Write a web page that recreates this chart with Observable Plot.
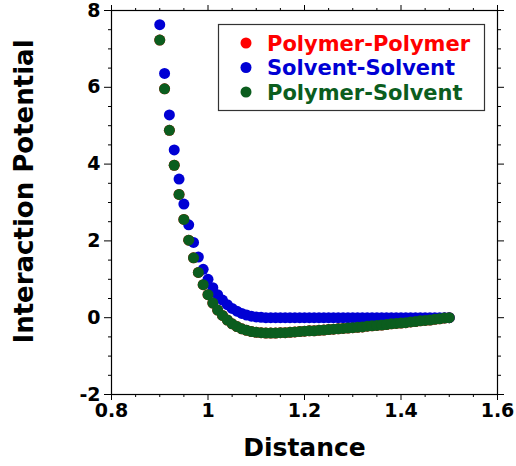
<!DOCTYPE html>
<html><head><meta charset="utf-8">
<script src="https://cdn.jsdelivr.net/npm/d3@7"></script>
<script src="https://cdn.jsdelivr.net/npm/@observablehq/plot@0.6"></script>
<style>body{margin:0;background:#fff}#chart{width:516px;height:466px}</style>
</head><body><div id="chart"></div>
<script>
const distance = [0.90,0.91,0.92,0.93,0.94,0.95,0.96,0.97,0.98,0.99,
  1.00,1.01,1.02,1.03,1.04,1.05,1.06,1.07,1.08,1.09,
  1.10,1.11,1.12,1.13,1.14,1.15,1.16,1.17,1.18,1.19,
  1.20,1.21,1.22,1.23,1.24,1.25,1.26,1.27,1.28,1.29,
  1.30,1.31,1.32,1.33,1.34,1.35,1.36,1.37,1.38,1.39,
  1.40,1.41,1.42,1.43,1.44,1.45,1.46,1.47,1.48,1.49,1.50];
const solventSolvent = [7.63,6.36,5.28,4.37,3.61,2.96,2.42,1.96,1.58,1.26,
  1.00,0.78,0.60,0.46,0.34,0.24,0.17,0.11,0.07,0.04,
  0.02,0.01,0.00,0.00,0.00,0.00,0.00,0.00,0.00,0.00,
  0.00,0.00,0.00,0.00,0.00,0.00,0.00,0.00,0.00,0.00,
  0.00,0.00,0.00,0.00,0.00,0.00,0.00,0.00,0.00,0.00,
  0.00,0.00,0.00,0.00,0.00,0.00,0.00,0.00,0.00,0.00,0.00];
const polymerSolvent = [7.23,5.96,4.88,3.97,3.21,2.56,2.02,1.56,1.18,0.86,
  0.60,0.38,0.20,0.06,-0.06,-0.16,-0.23,-0.29,-0.33,-0.36,
  -0.38,-0.39,-0.40,-0.40,-0.40,-0.39,-0.39,-0.38,-0.37,-0.36,
  -0.35,-0.34,-0.34,-0.33,-0.32,-0.31,-0.30,-0.29,-0.28,-0.27,
  -0.26,-0.25,-0.24,-0.22,-0.21,-0.20,-0.19,-0.18,-0.16,-0.15,
  -0.14,-0.13,-0.11,-0.10,-0.08,-0.07,-0.06,-0.04,-0.03,-0.01,0.00];
// Polymer-Polymer is fully hidden beneath the other two series in the picture
const polymerPolymer = [7.23,5.96,4.88,3.97,3.21,2.56,2.02,1.56,1.18,0.86,
  0.60,0.38,0.20,0.06,-0.06,-0.16,-0.23,-0.29,-0.33,-0.36,
  -0.38,-0.39,-0.40,-0.40,-0.40,-0.39,-0.39,-0.38,-0.37,-0.36,
  -0.35,-0.34,-0.34,-0.33,-0.32,-0.31,-0.30,-0.29,-0.28,-0.27,
  -0.26,-0.25,-0.24,-0.22,-0.21,-0.20,-0.19,-0.18,-0.16,-0.15,
  -0.14,-0.13,-0.11,-0.10,-0.08,-0.07,-0.06,-0.04,-0.03,-0.01,0.00];
const seriesNames = ["Polymer-Polymer","Solvent-Solvent","Polymer-Solvent"];
const seriesColors = ["#ff0000","#0000d4","#0b5d1e"];
const xMajorTicks = [0.8,1,1.2,1.4,1.6];
const xMinorTicks = [0.85,0.9,0.95,1.05,1.1,1.15,1.25,1.3,1.35,1.45,1.5,1.55];
const yMajorTicks = [-2,0,2,4,6,8];
const yMinorTicks = [-1.5,-1,-0.5,0.5,1,1.5,2.5,3,3.5,4.5,5,5.5,6.5,7,7.5];
const xLabel = "Distance";
const yLabel = "Interaction Potential";

const rows = [];
[polymerPolymer, solventSolvent, polymerSolvent].forEach((vals, i) =>
  vals.forEach((v, j) => rows.push({series: seriesNames[i], x: distance[j], y: v})));

const font = "DejaVu Sans";
const fmt = d => String(d);
const chart = Plot.plot({
  width: 516, height: 466,
  marginLeft: 111, marginRight: 19, marginTop: 10, marginBottom: 72,
  style: {fontFamily: font, color: "#000", background: "#fff", overflow: "visible"},
  x: {domain: [0.8, 1.6]},
  y: {domain: [-2, 8]},
  color: {domain: seriesNames, range: seriesColors},
  marks: [
    Plot.dot(rows, {x: "x", y: "y", fill: "series", r: 5.5, stroke: null}),
    Plot.frame({stroke: "#000", strokeWidth: 1.2}),
    Plot.axisX(xMajorTicks, {anchor: "bottom", tickSize: 6, tickPadding: 3, tickFormat: fmt, fontSize: 19, fontWeight: "bold", label: null}),
    Plot.axisX(xMinorTicks, {anchor: "bottom", tickSize: 3, text: null, label: null}),
    Plot.axisX(xMajorTicks, {anchor: "top", tickSize: 6, text: null, label: null}),
    Plot.axisX(xMinorTicks, {anchor: "top", tickSize: 3, text: null, label: null}),
    Plot.axisY(yMajorTicks, {anchor: "left", tickSize: 7, tickPadding: 4, tickFormat: fmt, fontSize: 19, fontWeight: "bold", label: null}),
    Plot.axisY(yMinorTicks, {anchor: "left", tickSize: 3, text: null, label: null}),
    Plot.axisY(yMajorTicks, {anchor: "right", tickSize: 6, text: null, label: null}),
    Plot.axisY(yMinorTicks, {anchor: "right", tickSize: 3, text: null, label: null}),
    Plot.axisX([], {anchor: "bottom", label: xLabel, labelAnchor: "center", labelArrow: "none", labelOffset: 61, fontSize: 25, fontWeight: "bold"}),
    Plot.axisY([], {anchor: "left", label: yLabel, labelAnchor: "center", labelArrow: "none", labelOffset: 97, fontSize: 26, fontWeight: "bold"})
  ]
});
document.getElementById("chart").appendChild(chart);

const svg = d3.select(chart);
// nudge the y-axis title upward along its rotated baseline, as in the reference
svg.selectAll("text").filter(function() { return this.textContent === yLabel; }).attr("dx", 11);

// legend (inside plot area, top-right)
const lg = svg.append("g").attr("font-family", font).attr("font-weight", "bold")
  .attr("font-size", 21).attr("text-anchor", "start");
lg.append("rect").attr("x", 218.5).attr("y", 24.5).attr("width", 266).attr("height", 86)
  .attr("fill", "#fff").attr("stroke", "#333").attr("stroke-width", 1.2);
seriesNames.forEach((name, i) => {
  const cy = 43 + i * 24.5;
  lg.append("circle").attr("cx", 246).attr("cy", cy).attr("r", 5.5).attr("fill", seriesColors[i]);
  lg.append("text").attr("x", 267).attr("y", cy).attr("dy", "0.36em").attr("fill", seriesColors[i]).text(name);
});
</script></body></html>
